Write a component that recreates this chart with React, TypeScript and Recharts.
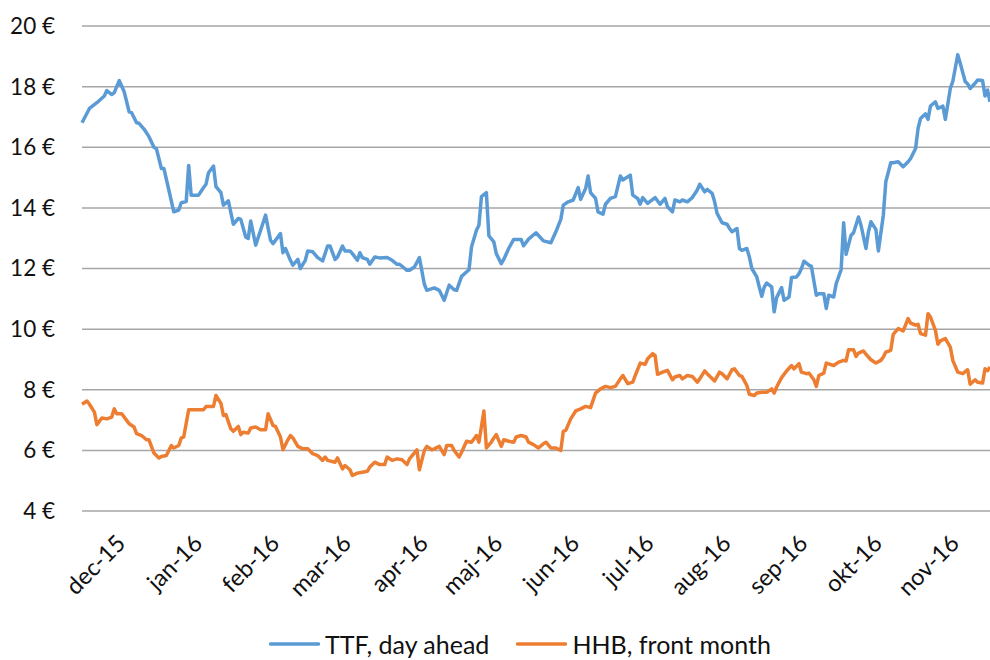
import { LineChart, Line, XAxis, YAxis, CartesianGrid, Legend } from "recharts";

// day 0 = 16 Nov 2015, daily gas prices in EUR/MWh
const START = Date.UTC(2015, 10, 16);

const monthTicks = [15, 46, 77, 106, 137, 167, 198, 228, 259, 290, 320, 351];
const monthLabels = [
  "dec-15", "jan-16", "feb-16", "mar-16", "apr-16", "maj-16",
  "jun-16", "jul-16", "aug-16", "sep-16", "okt-16", "nov-16",
];
const yTicks = [4, 6, 8, 10, 12, 14, 16, 18, 20];

const ttfDays = [
  0, 3, 6, 9, 10, 12, 13, 15, 17, 19, 20, 22, 23, 25, 27, 29, 30, 32, 33, 35,
  37, 39, 40, 42, 43, 44, 47, 49, 50, 51, 53, 54, 56, 57, 59, 61, 63, 64, 66, 67,
  68, 70, 72, 74, 76, 77, 80, 81, 82, 84, 85, 87, 88, 90, 91, 93, 95, 97, 99, 100,
  102, 103, 105, 106, 108, 109, 111, 112, 113, 115, 116, 118, 120, 123, 125, 127, 128, 131, 132, 134,
  136, 138, 139, 142, 144, 145, 146, 148, 150, 151, 153, 156, 157, 159, 160, 161, 163, 164, 166, 167,
  169, 170, 172, 174, 177, 178, 180, 183, 186, 189, 191, 193, 194, 196, 198, 200, 201, 203, 204, 205,
  207, 208, 210, 211, 213, 215, 217, 218, 221, 222, 224, 225, 226, 228, 231, 233, 235, 236, 238, 239,
  241, 242, 244, 246, 248, 249, 251, 252, 254, 255, 256, 258, 260, 261, 262, 264, 265, 266, 268, 269,
  270, 272, 273, 274, 275, 276, 278, 279, 280, 282, 283, 285, 286, 288, 289, 290, 291, 293, 294, 296,
  297, 299, 300, 301, 303, 304, 306, 307, 308, 310, 311, 313, 314, 316, 317, 318, 320, 321, 323, 324,
  326, 327, 329, 331, 333, 334, 336, 337, 338, 340, 341, 342, 344, 345, 347, 348, 350, 351, 353, 354,
  356, 357, 358, 360, 361, 363, 364, 365, 366,
];
const ttfValues = [
  16.81, 17.28, 17.47, 17.69, 17.87, 17.74, 17.8, 18.2, 17.83, 17.17, 17.14, 16.81, 16.79, 16.6, 16.35, 16.0, 15.95, 15.3, 15.3, 14.59,
  13.87, 13.93, 14.17, 14.21, 15.4, 14.42, 14.42, 14.67, 14.78, 15.16, 15.38, 14.7, 14.5, 14.09, 14.23, 13.46, 13.65, 13.62, 13.04, 12.99,
  13.57, 12.77, 13.26, 13.76, 12.93, 12.82, 13.15, 12.52, 12.66, 12.27, 12.11, 12.3, 12.0, 12.27, 12.58, 12.55, 12.36, 12.25, 12.74, 12.74,
  12.3, 12.38, 12.74, 12.58, 12.58, 12.49, 12.27, 12.52, 12.36, 12.3, 12.14, 12.38, 12.35, 12.36, 12.27, 12.14, 12.14, 11.94, 11.94, 12.05,
  12.36, 11.48, 11.28, 11.36, 11.28, 11.12, 10.95, 11.45, 11.3, 11.28, 11.74, 11.96, 12.71, 13.26, 13.43, 14.37, 14.5, 13.08, 12.88, 12.49,
  12.16, 12.3, 12.66, 12.96, 12.96, 12.75, 12.97, 13.18, 12.91, 12.85, 13.21, 13.62, 14.09, 14.2, 14.26, 14.67, 14.28, 14.64, 15.05, 14.5,
  14.31, 13.87, 13.79, 14.12, 14.31, 14.37, 15.05, 14.92, 15.08, 14.42, 14.31, 14.12, 14.34, 14.15, 14.34, 14.12, 14.31, 14.04, 13.87, 14.26,
  14.2, 14.26, 14.2, 14.34, 14.59, 14.78, 14.53, 14.61, 14.48, 14.2, 13.82, 13.51, 13.46, 13.32, 13.21, 13.32, 12.66, 12.6, 12.66, 12.38,
  12.0, 11.72, 11.39, 11.08, 11.39, 11.52, 11.39, 10.57, 11.04, 11.37, 10.95, 11.06, 11.7, 11.72, 11.83, 12.0, 12.24, 12.11, 12.07, 11.12,
  11.17, 11.17, 10.68, 11.12, 11.06, 11.5, 11.96, 13.51, 12.47, 13.1, 13.18, 13.7, 13.43, 12.66, 13.21, 13.54, 13.29, 12.58, 13.76, 14.86,
  15.49, 15.49, 15.52, 15.36, 15.52, 15.63, 15.96, 16.62, 16.95, 17.1, 16.92, 17.36, 17.5, 17.28, 17.36, 16.92, 17.94, 18.17, 19.05, 18.77,
  18.17, 18.09, 17.94, 18.11, 18.22, 18.2, 17.69, 17.89, 17.5,
];

const hhbDays = [
  0, 2, 3, 5, 6, 8, 10, 12, 13, 14, 16, 18, 19, 21, 22, 24, 26, 27, 29, 31,
  32, 34, 36, 37, 39, 40, 41, 43, 45, 46, 49, 50, 53, 54, 56, 57, 58, 60, 61, 63,
  64, 65, 67, 68, 70, 72, 74, 75, 77, 78, 80, 81, 83, 84, 85, 87, 89, 91, 93, 95,
  97, 98, 99, 102, 103, 105, 106, 108, 109, 111, 113, 115, 116, 118, 120, 122, 123, 125, 127, 129,
  131, 132, 135, 136, 138, 139, 141, 142, 144, 146, 147, 149, 150, 152, 153, 155, 157, 159, 160, 162,
  163, 165, 166, 167, 169, 170, 172, 174, 175, 177, 179, 180, 182, 184, 186, 187, 189, 191, 193, 194,
  195, 197, 199, 201, 203, 205, 207, 209, 211, 213, 215, 217, 218, 220, 222, 223, 225, 227, 228, 230,
  231, 232, 234, 236, 238, 239, 241, 242, 244, 246, 248, 249, 251, 252, 255, 257, 258, 260, 262, 263,
  265, 266, 268, 269, 271, 272, 274, 276, 278, 279, 280, 282, 284, 286, 287, 289, 290, 292, 293, 295,
  296, 297, 299, 300, 303, 305, 307, 308, 309, 311, 312, 313, 315, 316, 318, 320, 322, 323, 324, 326,
  327, 329, 331, 333, 334, 336, 337, 338, 340, 341, 342, 344, 345, 346, 348, 350, 351, 353, 355, 357,
  358, 360, 361, 363, 364, 365, 366,
];
const hhbValues = [
  7.52, 7.63, 7.52, 7.26, 6.85, 7.07, 7.04, 7.1, 7.37, 7.21, 7.21, 6.99, 6.88, 6.77, 6.55, 6.49, 6.35, 6.35, 5.91, 5.75,
  5.8, 5.83, 6.16, 6.08, 6.16, 6.41, 6.44, 7.34, 7.34, 7.34, 7.34, 7.45, 7.45, 7.81, 7.55, 7.15, 7.18, 6.71, 6.63, 6.79,
  6.52, 6.6, 6.57, 6.74, 6.77, 6.68, 6.68, 7.21, 6.82, 6.79, 6.44, 6.02, 6.35, 6.49, 6.41, 6.13, 6.05, 6.05, 5.89, 5.83,
  5.67, 5.78, 5.67, 5.61, 5.75, 5.39, 5.5, 5.36, 5.17, 5.25, 5.28, 5.31, 5.45, 5.61, 5.53, 5.53, 5.78, 5.67, 5.72, 5.69,
  5.53, 5.72, 6.02, 5.36, 6.0, 6.13, 6.02, 6.05, 6.13, 5.86, 6.16, 6.16, 6.0, 5.78, 5.94, 6.3, 6.27, 6.49, 6.27, 7.3,
  6.08, 6.27, 6.41, 6.52, 6.13, 6.35, 6.3, 6.27, 6.44, 6.49, 6.44, 6.27, 6.19, 6.08, 6.22, 6.27, 6.08, 6.08, 6.0, 6.63,
  6.66, 7.04, 7.3, 7.37, 7.45, 7.41, 7.89, 8.03, 8.11, 8.07, 8.11, 8.36, 8.47, 8.2, 8.25, 8.47, 8.88, 8.84, 9.02, 9.19,
  9.13, 8.51, 8.58, 8.64, 8.33, 8.42, 8.47, 8.36, 8.47, 8.44, 8.25, 8.36, 8.62, 8.53, 8.29, 8.58, 8.53, 8.36, 8.66, 8.69,
  8.47, 8.44, 8.14, 7.85, 7.81, 7.89, 7.92, 7.92, 8.03, 7.89, 8.09, 8.4, 8.62, 8.8, 8.69, 8.86, 8.58, 8.53, 8.55, 8.33,
  8.11, 8.47, 8.55, 8.88, 8.8, 8.91, 8.97, 8.95, 9.32, 9.32, 9.1, 9.21, 9.28, 9.17, 8.99, 8.88, 8.97, 9.08, 9.24, 9.3,
  9.83, 10.02, 9.94, 10.35, 10.2, 10.13, 10.16, 9.85, 9.8, 10.51, 10.4, 9.96, 9.5, 9.61, 9.69, 9.41, 8.97, 8.58, 8.53, 8.66,
  8.18, 8.33, 8.25, 8.22, 8.69, 8.63, 8.75,
];

const ttfName = "TTF, day ahead";
const hhbName = "HHB, front month";
const ttfColor = "#5B9BD5";
const hhbColor = "#ED7D31";

const FONT = "Lato, 'Open Sans', sans-serif";

const ttfData = ttfDays.map((d, i) => ({ day: d, date: START + d * 86400000, price: ttfValues[i] }));
const hhbData = hhbDays.map((d, i) => ({ day: d, date: START + d * 86400000, price: hhbValues[i] }));

function LegendBox() {
  const items = [
    { name: ttfName, color: ttfColor },
    { name: hhbName, color: hhbColor },
  ];
  return (
    <div
      style={{
        display: "flex",
        justifyContent: "center",
        alignItems: "center",
        height: 30,
        paddingLeft: 50,
        fontFamily: FONT,
        fontSize: 25,
        color: "#111",
      }}
    >
      {items.map((it, i) => (
        <div key={it.name} style={{ display: "flex", alignItems: "center", marginLeft: i ? 27 : 0 }}>
          <svg width={51} height={10} style={{ marginRight: 5 }}>
            <line x1={1.5} y1={5} x2={49.5} y2={5} stroke={it.color} strokeWidth={3.5} strokeLinecap="round" />
          </svg>
          <span>{it.name}</span>
        </div>
      ))}
    </div>
  );
}

export default function App() {
  return (
    <div style={{ position: "absolute", left: 0, top: 0, width: 990, height: 660, background: "#fff" }}>
      <LineChart width={990} height={660} margin={{ top: 26, right: 0, left: 0, bottom: 1 }}>
        <CartesianGrid horizontal vertical={false} stroke="#a6a6a6" strokeWidth={1.5} />
        <XAxis
          type="number"
          dataKey="day"
          domain={[0, 366]}
          ticks={monthTicks}
          tickFormatter={(v: number) => monthLabels[monthTicks.indexOf(v)] ?? ""}
          axisLine={false}
          tickLine={false}
          interval={0}
          height={118}
          angle={-45}
          textAnchor="end"
          tick={{ fill: "#111", fontSize: 23.5, fontFamily: FONT, dx: -4 }}
          tickSize={0}
          tickMargin={22}
        />
        <YAxis
          type="number"
          domain={[4, 20]}
          ticks={yTicks}
          tickFormatter={(v: number) => `${v} €`}
          axisLine={false}
          tickLine={false}
          width={82}
          tickSize={0}
          tickMargin={27}
          tick={{ fill: "#111", fontSize: 22.5, fontFamily: FONT }}
        />
        <Legend verticalAlign="bottom" content={() => <LegendBox />} />
        <Line
          data={ttfData}
          dataKey="price"
          name={ttfName}
          type="linear"
          stroke={ttfColor}
          strokeWidth={3.5}
          strokeLinejoin="round"
          dot={false}
          activeDot={false}
          isAnimationActive={false}
        />
        <Line
          data={hhbData}
          dataKey="price"
          name={hhbName}
          type="linear"
          stroke={hhbColor}
          strokeWidth={3.5}
          strokeLinejoin="round"
          dot={false}
          activeDot={false}
          isAnimationActive={false}
        />
      </LineChart>
    </div>
  );
}
